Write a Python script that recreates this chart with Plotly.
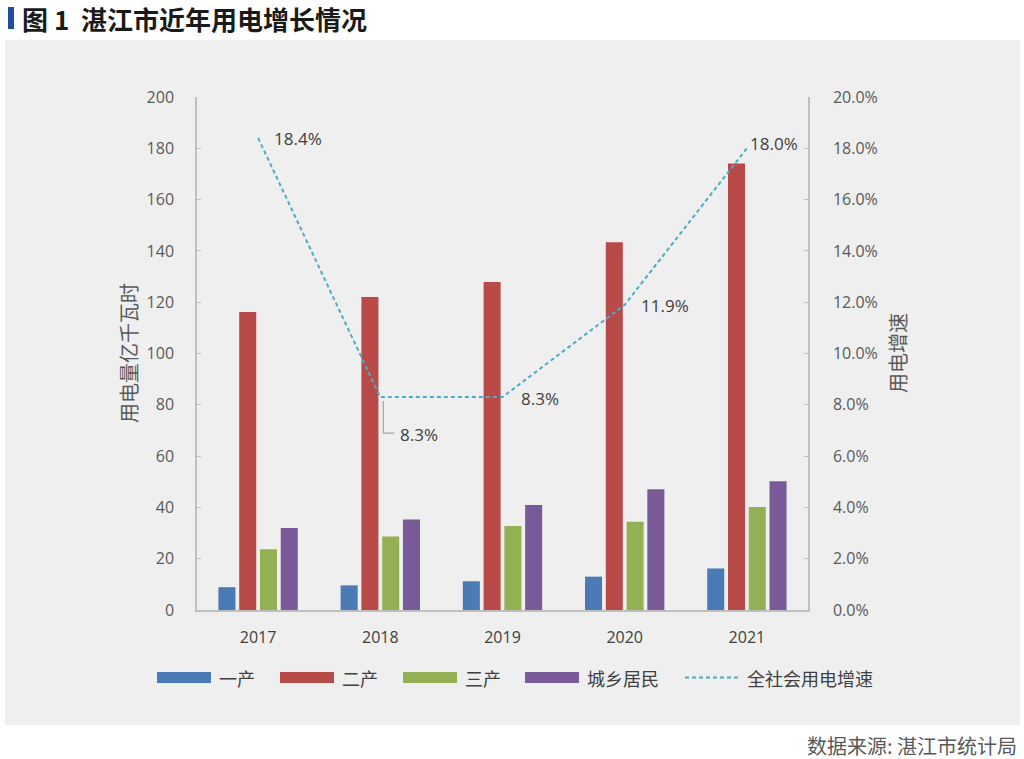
import plotly.graph_objects as go

years = ['2017', '2018', '2019', '2020', '2021']
primary = [8.9, 9.6, 11.2, 13.0, 16.2]        # 一产
secondary = [116.2, 122.0, 127.9, 143.4, 174.1]  # 二产
tertiary = [23.7, 28.7, 32.7, 34.4, 40.2]     # 三产
residents = [32.0, 35.3, 40.9, 47.1, 50.2]    # 城乡居民
growth = [18.4, 8.3, 8.3, 11.9, 18.0]         # 全社会用电增速 (%)

series_names = ['一产', '二产', '三产', '城乡居民']
growth_name = '全社会用电增速'
colors = ['#4A7BB5', '#B84A48', '#93B055', '#775A97']
line_color = '#4BACC6'

W, H = 1024, 759
L, R, T, B = 197, 808, 97, 610   # plot area in pixels
font_cn = 'Noto Sans CJK SC'
font_num = 'Open Sans, Noto Sans CJK SC'


def px(x):
    return (x - L) / (R - L)


def py(y):
    return (B - y) / (B - T)


fig = go.Figure()

for name, vals, c in zip(series_names, [primary, secondary, tertiary, residents], colors):
    fig.add_trace(go.Bar(x=years, y=vals, name=name, marker=dict(color=c, line=dict(width=0)),
                         showlegend=False))

fig.add_trace(go.Scatter(x=years, y=growth, name=growth_name, yaxis='y2', mode='lines',
                         line=dict(color=line_color, width=2, dash='4px,3px'), showlegend=False))

# data labels for the growth line (x given as category index)
label_shift = [(14, 0), (18, -37), (16, -1), (14, -1), (1, 5)]
annotations = []
for i, g in enumerate(growth):
    dx, dy = label_shift[i]
    annotations.append(dict(x=i, y=g, xref='x', yref='y2', text=f'{g:.1f}%', showarrow=False,
                            xanchor='left', yanchor='middle', xshift=dx, yshift=dy,
                            font=dict(family=font_num, size=17, color='#404040')))
# leader line for the 2018 label
fig.add_shape(type='path', xref='x', yref='y2', xsizemode='pixel', ysizemode='pixel',
              xanchor=1, yanchor=growth[1], path='M 3,-4 L 3,-36 L 14,-36',
              line=dict(color='#A6A6A6', width=1.2))

# custom legend
leg_y = 677.5
swatch_x = [157, 280, 403, 525]
for name, c, sx in zip(series_names, colors, swatch_x):
    fig.add_shape(type='rect', xref='paper', yref='paper', x0=px(sx), x1=px(sx + 54),
                  y0=py(leg_y + 5.5), y1=py(leg_y - 5.5), fillcolor=c, line=dict(width=0))
    annotations.append(dict(x=px(sx + 60), y=py(leg_y), xref='paper', yref='paper', text=name,
                            showarrow=False, xanchor='left', yanchor='middle',
                            font=dict(family=font_cn, size=18, color='#404040')))
fig.add_shape(type='line', xref='paper', yref='paper', x0=px(685), x1=px(740),
              y0=py(leg_y), y1=py(leg_y), line=dict(color=line_color, width=2, dash='4px,3px'))
annotations.append(dict(x=px(745), y=py(leg_y), xref='paper', yref='paper', text=growth_name,
                        showarrow=False, xanchor='left', yanchor='middle',
                        font=dict(family=font_cn, size=18, color='#404040')))

# grey panel, title bar, title and source
fig.add_shape(type='rect', xref='paper', yref='paper', x0=px(5), x1=px(1020),
              y0=py(725), y1=py(40), fillcolor='#EFEFEF', line=dict(width=0), layer='below')
fig.add_shape(type='rect', xref='paper', yref='paper', x0=px(8), x1=px(14),
              y0=py(29), y1=py(7), fillcolor='#1F4E9C', line=dict(width=0))
annotations.append(dict(x=px(20), y=py(18), xref='paper', yref='paper',
                        text='<b>图 1  湛江市近年用电增长情况</b>', showarrow=False,
                        xanchor='left', yanchor='middle',
                        font=dict(family=font_cn, size=26, color='#1A1A1A')))
annotations.append(dict(x=px(1019), y=py(745), xref='paper', yref='paper',
                        text='数据来源: 湛江市统计局', showarrow=False,
                        xanchor='right', yanchor='middle',
                        font=dict(family=font_cn, size=20, color='#595959')))
# axis titles
annotations.append(dict(x=px(128), y=py(353), xref='paper', yref='paper', text='用电量亿千瓦时',
                        showarrow=False, textangle=-90, xanchor='center', yanchor='middle',
                        font=dict(family=font_cn, size=20, color='#595959')))
annotations.append(dict(x=px(897), y=py(353), xref='paper', yref='paper', text='用电增速',
                        showarrow=False, textangle=-90, xanchor='center', yanchor='middle',
                        font=dict(family=font_cn, size=20, color='#595959')))

fig.update_layout(
    width=W, height=H,
    margin=dict(l=L, r=W - R, t=T, b=H - B, pad=0),
    paper_bgcolor='white', plot_bgcolor='rgba(0,0,0,0)',
    barmode='group', bargap=0.32, bargroupgap=0.18,
    annotations=annotations,
    xaxis=dict(type='category', range=[-0.5, len(years) - 0.5], autorange=False,
               showline=True, linecolor='#BFBFBF', linewidth=1.5,
               showgrid=False, ticks='', ticklabelstandoff=12,
               tickfont=dict(family=font_num, size=16, color='#404040')),
    yaxis=dict(range=[0, 200], dtick=20, showline=True, linecolor='#BFBFBF', linewidth=1.5,
               showgrid=False, zeroline=False, ticks='inside', ticklen=4, tickcolor='#BFBFBF',
               tickfont=dict(family=font_num, size=16, color='#595959'), ticklabelstandoff=18),
    yaxis2=dict(range=[0, 20], dtick=2, overlaying='y', side='right', showline=True,
                linecolor='#BFBFBF', linewidth=1.5, showgrid=False, zeroline=False,
                ticks='inside', ticklen=4, tickcolor='#BFBFBF', tickformat='.1f', ticksuffix='%',
                tickfont=dict(family=font_num, size=16, color='#595959'), ticklabelstandoff=20),
)

# drop the default page margin so the figure sits at the window's corner
fig.write_html('out.html', config={'displayModeBar': False},
               post_script="document.body.style.margin='0';")
